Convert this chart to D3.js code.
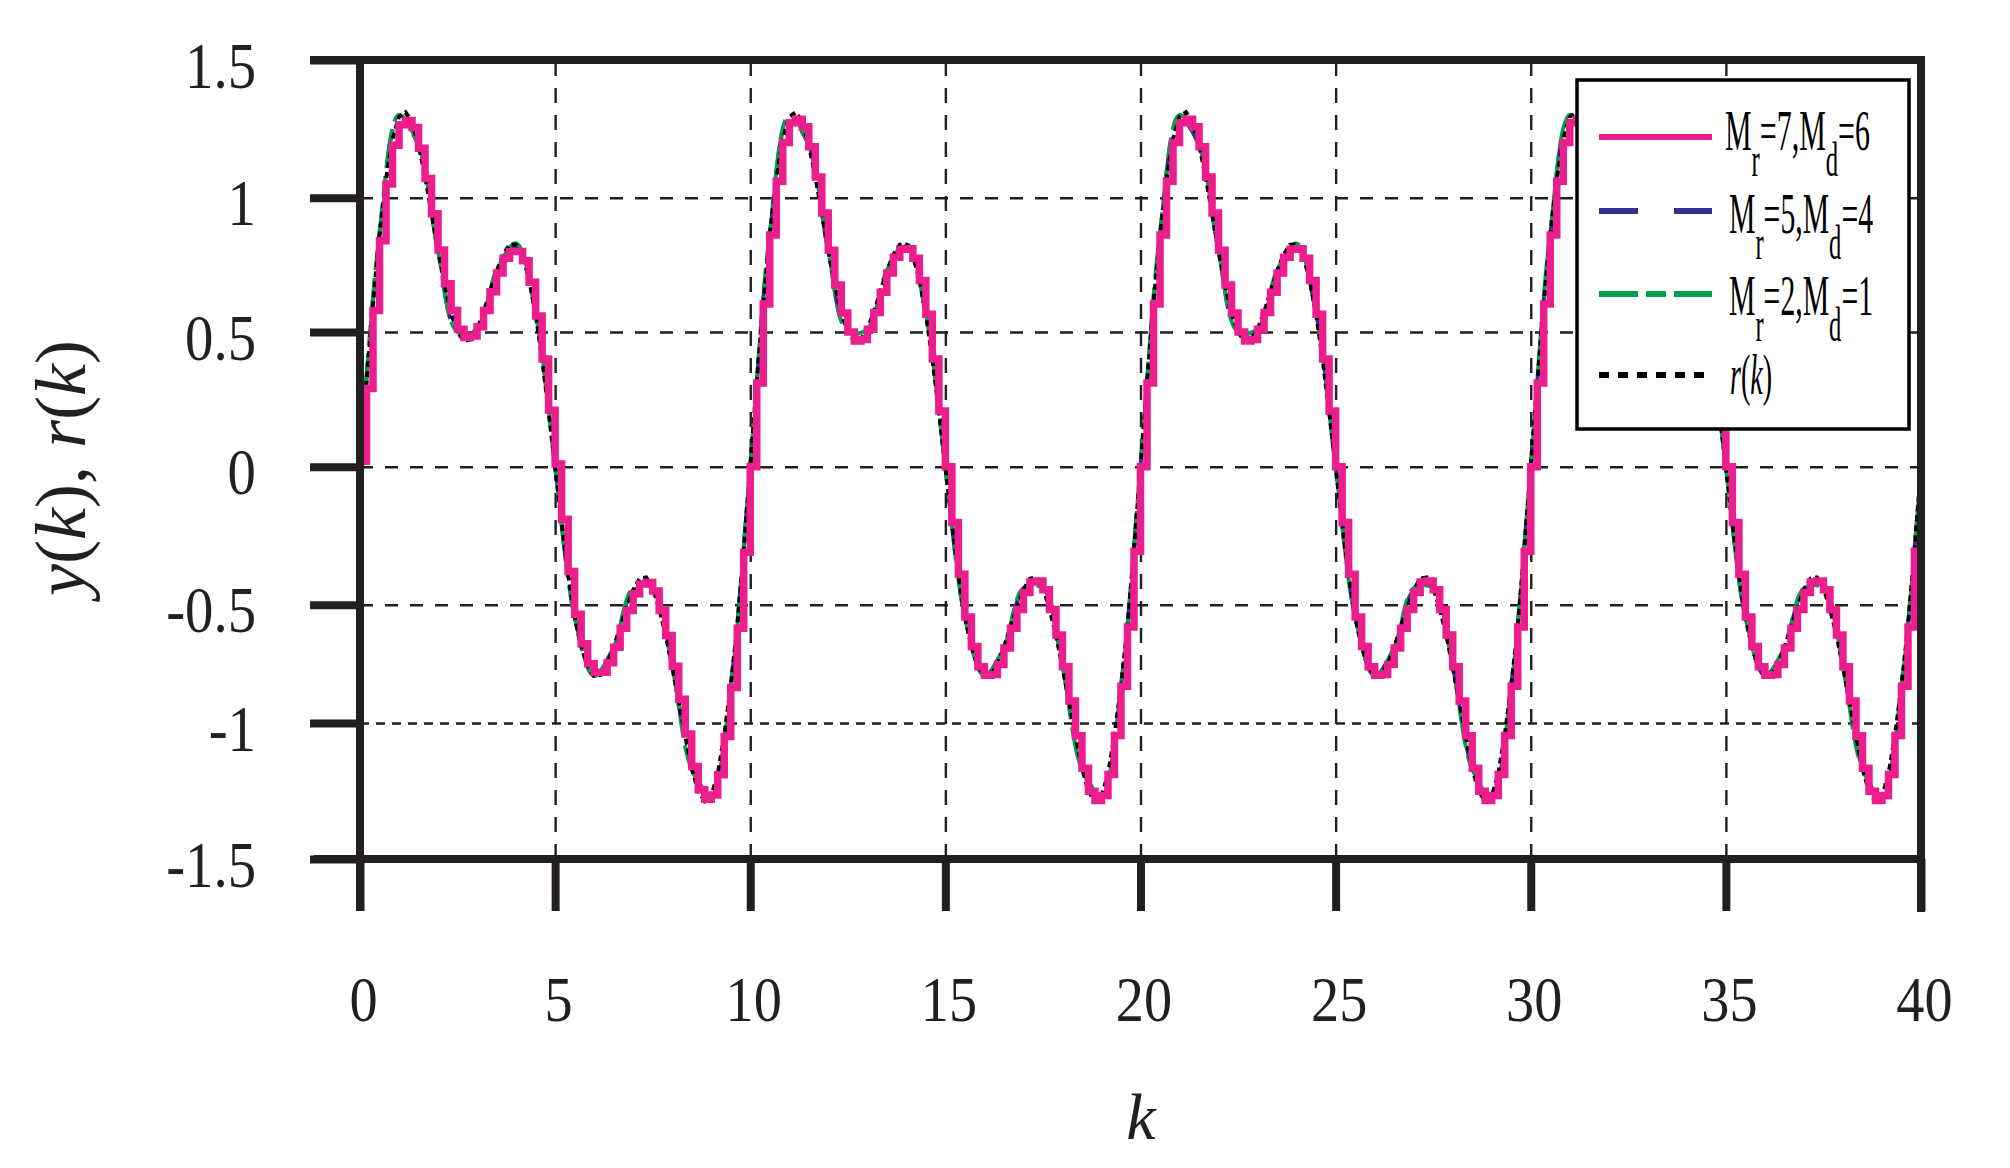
<!DOCTYPE html>
<html>
<head>
<meta charset="utf-8">
<script src="https://cdn.jsdelivr.net/npm/d3@7"></script>
<style>
  html, body { margin: 0; padding: 0; background: #fff; }
  svg { display: block; font-family: "Liberation Serif", "Times New Roman", serif; }
</style>
</head>
<body>
<svg id="chart"></svg>
<script>
// ---- data ----
const xTicks = [0, 5, 10, 15, 20, 25, 30, 35, 40];
const yTicks = [-1.5, -1, -0.5, 0, 0.5, 1, 1.5];
const yTickLabels = ["-1.5", "-1", "-0.5", "0", "0.5", "1", "1.5"];
const xGrid = [5, 10, 15, 20, 25, 30, 35];
const yGrid = [-1, -0.5, 0, 0.5, 1];

// sampling instants (1/6) for r(k) and the staircase, 0.5 for the other two runs
const kFine = d3.range(241).map(i => i / 6);
const kCoarse = d3.range(81).map(i => i / 2);

// reference r(k)
const rRef = [
  0, 0.311, 0.604, 0.861, 1.066, 1.212, 1.294, 1.310, 1.275, 1.193, 1.078, 0.943, 0.804, 0.675, 0.571, 0.500, 0.467, 0.472, 0.510, 0.573,
  0.650, 0.726, 0.788, 0.825, 0.826, 0.784, 0.697, 0.567, 0.400, 0.207, 0, -0.202, -0.390, -0.552, -0.677, -0.762, -0.801, -0.797, -0.753, -0.681,
  -0.595, -0.513, -0.446, -0.406, -0.401, -0.438, -0.516, -0.627, -0.762, -0.907, -1.047, -1.166, -1.251, -1.287, -1.269, -1.189, -1.046, -0.845, -0.594, -0.306,
  0, 0.311, 0.604, 0.861, 1.066, 1.212, 1.294, 1.310, 1.275, 1.193, 1.078, 0.943, 0.804, 0.675, 0.571, 0.500, 0.467, 0.472, 0.510, 0.573,
  0.650, 0.726, 0.788, 0.825, 0.826, 0.784, 0.697, 0.567, 0.400, 0.207, 0, -0.202, -0.390, -0.552, -0.677, -0.762, -0.801, -0.797, -0.753, -0.681,
  -0.595, -0.513, -0.446, -0.406, -0.401, -0.438, -0.516, -0.627, -0.762, -0.907, -1.047, -1.166, -1.251, -1.287, -1.269, -1.189, -1.046, -0.845, -0.594, -0.306,
  0, 0.311, 0.604, 0.861, 1.066, 1.212, 1.294, 1.310, 1.275, 1.193, 1.078, 0.943, 0.804, 0.675, 0.571, 0.500, 0.467, 0.472, 0.510, 0.573,
  0.650, 0.726, 0.788, 0.825, 0.826, 0.784, 0.697, 0.567, 0.400, 0.207, 0, -0.202, -0.390, -0.552, -0.677, -0.762, -0.801, -0.797, -0.753, -0.681,
  -0.595, -0.513, -0.446, -0.406, -0.401, -0.438, -0.516, -0.627, -0.762, -0.907, -1.047, -1.166, -1.251, -1.287, -1.269, -1.189, -1.046, -0.845, -0.594, -0.306,
  0, 0.311, 0.604, 0.861, 1.066, 1.212, 1.294, 1.310, 1.275, 1.193, 1.078, 0.943, 0.804, 0.675, 0.571, 0.500, 0.467, 0.472, 0.510, 0.573,
  0.650, 0.726, 0.788, 0.825, 0.826, 0.784, 0.697, 0.567, 0.400, 0.207, 0, -0.202, -0.390, -0.552, -0.677, -0.762, -0.801, -0.797, -0.753, -0.681,
  -0.595, -0.513, -0.446, -0.406, -0.401, -0.438, -0.516, -0.627, -0.762, -0.907, -1.047, -1.166, -1.251, -1.287, -1.269, -1.189, -1.046, -0.845, -0.594, -0.306,
  0
];

// Mr=7, Md=6 (zero-order hold output)
const yMr7Md6 = [
  0.02, 0.29, 0.58, 0.84, 1.05, 1.19, 1.265, 1.28, 1.255, 1.18, 1.07, 0.94, 0.805, 0.68, 0.58, 0.51, 0.48, 0.485, 0.52, 0.58,
  0.65, 0.72, 0.775, 0.80, 0.80, 0.765, 0.685, 0.56, 0.40, 0.21, 0.01, -0.19, -0.38, -0.54, -0.665, -0.75, -0.785, -0.785, -0.745, -0.68,
  -0.60, -0.525, -0.46, -0.425, -0.42, -0.45, -0.525, -0.63, -0.76, -0.90, -1.04, -1.16, -1.245, -1.28, -1.265, -1.19, -1.05, -0.85, -0.60, -0.31,
  0, 0.311, 0.604, 0.861, 1.060, 1.200, 1.272, 1.285, 1.258, 1.185, 1.075, 0.943, 0.804, 0.675, 0.571, 0.500, 0.467, 0.472, 0.510, 0.573,
  0.648, 0.720, 0.778, 0.808, 0.810, 0.775, 0.692, 0.566, 0.400, 0.207, 0, -0.202, -0.390, -0.552, -0.677, -0.762, -0.798, -0.795, -0.753, -0.683,
  -0.600, -0.520, -0.456, -0.418, -0.414, -0.446, -0.520, -0.628, -0.762, -0.907, -1.047, -1.166, -1.251, -1.285, -1.267, -1.189, -1.046, -0.845, -0.594, -0.306,
  0, 0.311, 0.604, 0.861, 1.060, 1.200, 1.272, 1.285, 1.258, 1.185, 1.075, 0.943, 0.804, 0.675, 0.571, 0.500, 0.467, 0.472, 0.510, 0.573,
  0.648, 0.720, 0.778, 0.808, 0.810, 0.775, 0.692, 0.566, 0.400, 0.207, 0, -0.202, -0.390, -0.552, -0.677, -0.762, -0.798, -0.795, -0.753, -0.683,
  -0.600, -0.520, -0.456, -0.418, -0.414, -0.446, -0.520, -0.628, -0.762, -0.907, -1.047, -1.166, -1.251, -1.285, -1.267, -1.189, -1.046, -0.845, -0.594, -0.306,
  0, 0.311, 0.604, 0.861, 1.060, 1.200, 1.272, 1.285, 1.258, 1.185, 1.075, 0.943, 0.804, 0.675, 0.571, 0.500, 0.467, 0.472, 0.510, 0.573,
  0.648, 0.720, 0.778, 0.808, 0.810, 0.775, 0.692, 0.566, 0.400, 0.207, 0, -0.202, -0.390, -0.552, -0.677, -0.762, -0.798, -0.795, -0.753, -0.683,
  -0.600, -0.520, -0.456, -0.418, -0.414, -0.446, -0.520, -0.628, -0.762, -0.907, -1.047, -1.166, -1.251, -1.285, -1.267, -1.189, -1.046, -0.845, -0.594, -0.306,
  0
];

// Mr=5, Md=4
const yMr5Md4 = [
  0, 0.86, 1.29, 1.19, 0.80, 0.50, 0.51, 0.72, 0.82, 0.57, 0, -0.55, -0.80, -0.68, -0.45, -0.44, -0.76, -1.16, -1.27, -0.84,
  0, 0.86, 1.29, 1.19, 0.80, 0.50, 0.51, 0.72, 0.82, 0.57, 0, -0.55, -0.80, -0.68, -0.45, -0.44, -0.76, -1.16, -1.27, -0.84,
  0, 0.86, 1.29, 1.19, 0.80, 0.50, 0.51, 0.72, 0.82, 0.57, 0, -0.55, -0.80, -0.68, -0.45, -0.44, -0.76, -1.16, -1.27, -0.84,
  0, 0.86, 1.29, 1.19, 0.80, 0.50, 0.51, 0.72, 0.82, 0.57, 0, -0.55, -0.80, -0.68, -0.45, -0.44, -0.76, -1.16, -1.27, -0.84,
  0
];

// Mr=2, Md=1
const yMr2Md1 = [
  0, 0.87, 1.30, 1.19, 0.80, 0.50, 0.51, 0.73, 0.83, 0.57, 0, -0.55, -0.80, -0.68, -0.44, -0.44, -0.76, -1.17, -1.27, -0.85,
  0, 0.87, 1.30, 1.19, 0.80, 0.50, 0.51, 0.73, 0.83, 0.57, 0, -0.55, -0.80, -0.68, -0.44, -0.44, -0.76, -1.17, -1.27, -0.85,
  0, 0.87, 1.30, 1.19, 0.80, 0.50, 0.51, 0.73, 0.83, 0.57, 0, -0.55, -0.80, -0.68, -0.44, -0.44, -0.76, -1.17, -1.27, -0.85,
  0, 0.87, 1.30, 1.19, 0.80, 0.50, 0.51, 0.73, 0.83, 0.57, 0, -0.55, -0.80, -0.68, -0.44, -0.44, -0.76, -1.17, -1.27, -0.85,
  0
];

// legend text pieces: [text, kind] with kind "" | "sub" | "it"
const legendLabels = [
  [["M", ""], ["r", "sub"], ["=7,M", ""], ["d", "sub"], ["=6", ""]],
  [["M", ""], ["r", "sub"], ["=5,M", ""], ["d", "sub"], ["=4", ""]],
  [["M", ""], ["r", "sub"], ["=2,M", ""], ["d", "sub"], ["=1", ""]],
  [["r", "it"], ["(", ""], ["k", "it"], [")", ""]]
];
const legendColors = ["#ec1e8e", "#2e3192", "#00a14b", "#000000"];
const legendDashes = [null, "39,36", "39,8,20,8", "10,9"];

class ResponseChart {
  constructor(_config) {
    this.config = {
      parentElement: _config.parentElement,
      containerWidth: _config.containerWidth || 2010,
      containerHeight: _config.containerHeight || 1168,
      margin: _config.margin || {top: 60, right: 89, bottom: 309, left: 360}
    };
    this.initVis();
  }

  initVis() {
    let vis = this;
    vis.width = vis.config.containerWidth - vis.config.margin.left - vis.config.margin.right;
    vis.height = vis.config.containerHeight - vis.config.margin.top - vis.config.margin.bottom;

    vis.xScale = d3.scaleLinear().domain([0, 40]).range([0, vis.width]);
    // the printed tick marks are not evenly spaced, so the scale follows them piece by piece
    vis.yScale = d3.scaleLinear()
        .domain(yTicks)
        .range([vis.height, 663, 544.7, 406.7, 272, 137.7, 0]);

    vis.svg = d3.select(vis.config.parentElement)
        .attr('width', vis.config.containerWidth)
        .attr('height', vis.config.containerHeight);

    vis.chart = vis.svg.append('g')
        .attr('transform', `translate(${vis.config.margin.left},${vis.config.margin.top})`);

    vis.ink = '#231f20';
  }

  // narrow the glyphs a little, the source figure uses a condensed Times
  squeeze(sel, factor) {
    sel.each(function() {
      const w = this.getComputedTextLength();
      d3.select(this).attr('textLength', w * factor).attr('lengthAdjust', 'spacingAndGlyphs');
    });
  }

  updateVis() {
    let vis = this;

    // dashed grid
    const hGrid = vis.chart.append('g')
        .call(d3.axisLeft(vis.yScale).tickValues(yGrid).tickSize(-vis.width).tickFormat(''));
    hGrid.select('.domain').remove();
    hGrid.selectAll('line')
        .attr('stroke', vis.ink)
        .attr('stroke-width', 2.4)
        .attr('stroke-dasharray', d => d === -1 ? '9,7' : '13,12');

    const vGrid = vis.chart.append('g')
        .call(d3.axisBottom(vis.xScale).tickValues(xGrid).tickSize(-vis.height).tickFormat(''))
        .attr('transform', `translate(0,${vis.height})`);
    vGrid.select('.domain').remove();
    vGrid.selectAll('line')
        .attr('stroke', vis.ink)
        .attr('stroke-width', 2.4)
        .attr('stroke-dasharray', '15,12');

    // series
    const smooth = d3.line()
        .x(d => vis.xScale(d[0]))
        .y(d => vis.yScale(d[1]))
        .curve(d3.curveCatmullRom);
    const linear = d3.line()
        .x(d => vis.xScale(d[0]))
        .y(d => vis.yScale(d[1]));
    const stair = d3.line()
        .x(d => vis.xScale(d[0]))
        .y(d => vis.yScale(d[1]))
        .curve(d3.curveStepAfter);

    vis.chart.append('path')
        .datum(d3.zip(kCoarse, yMr5Md4))
        .attr('d', smooth)
        .attr('fill', 'none')
        .attr('stroke', legendColors[1])
        .attr('stroke-width', 4)
        .attr('stroke-dasharray', legendDashes[1]);

    vis.chart.append('path')
        .datum(d3.zip(kCoarse, yMr2Md1))
        .attr('d', smooth)
        .attr('fill', 'none')
        .attr('stroke', legendColors[2])
        .attr('stroke-width', 4)
        .attr('stroke-dasharray', legendDashes[2]);

    vis.chart.append('path')
        .datum(d3.zip(kFine, rRef))
        .attr('d', linear)
        .attr('fill', 'none')
        .attr('stroke', legendColors[3])
        .attr('stroke-width', 4)
        .attr('stroke-dasharray', '6,4');

    vis.chart.append('path')
        .datum(d3.zip(kFine, yMr7Md6))
        .attr('d', stair)
        .attr('fill', 'none')
        .attr('stroke', legendColors[0])
        .attr('stroke-width', 7.5)
        .attr('stroke-linejoin', 'miter');

    // axes
    const yAxisG = vis.chart.append('g')
        .call(d3.axisLeft(vis.yScale)
          .tickValues(yTicks)
          .tickSize(50)
          .tickPadding(54)
          .tickFormat((d, i) => yTickLabels[i]));
    yAxisG.select('.domain').remove();
    yAxisG.selectAll('line').attr('stroke', vis.ink).attr('stroke-width', 8);
    yAxisG.selectAll('text')
        .attr('dy', '0.41em')
        .attr('fill', vis.ink)
        .style('font-size', '66px')
        .style('font-family', '"Liberation Serif", "Times New Roman", serif')
        .call(sel => vis.squeeze(sel, 0.86));

    const xAxisG = vis.chart.append('g')
        .attr('transform', `translate(0,${vis.height})`)
        .call(d3.axisBottom(vis.xScale).tickValues(xTicks).tickSize(52).tickPadding(65));
    xAxisG.select('.domain').remove();
    xAxisG.selectAll('line').attr('stroke', vis.ink).attr('stroke-width', 8);
    xAxisG.selectAll('text')
        .attr('dx', 3)
        .attr('fill', vis.ink)
        .style('font-size', '64px')
        .style('font-family', '"Liberation Serif", "Times New Roman", serif')
        .call(sel => vis.squeeze(sel, 0.88));

    // frame
    const frame = vis.chart.append('g').attr('stroke', vis.ink).attr('stroke-width', 8);
    frame.append('line').attr('x1', -50).attr('x2', vis.width + 4).attr('y1', vis.yScale(1.5)).attr('y2', vis.yScale(1.5));
    frame.append('line').attr('x1', -46).attr('x2', vis.width + 4).attr('y1', vis.yScale(-1.5)).attr('y2', vis.yScale(-1.5));
    frame.append('line').attr('x1', vis.xScale(0)).attr('x2', vis.xScale(0)).attr('y1', -4).attr('y2', vis.height + 52);
    frame.append('line').attr('x1', vis.xScale(40)).attr('x2', vis.xScale(40)).attr('y1', -4).attr('y2', vis.height + 53);

    // axis titles
    const yTitle = vis.svg.append('text')
        .attr('transform', 'translate(85,468) rotate(-90)')
        .attr('text-anchor', 'middle')
        .attr('fill', vis.ink)
        .style('font-size', '72px');
    [['y', true], ['(', false], ['k', true], ['), ', false], ['r', true], ['(', false], ['k', true], [')', false]]
      .forEach(p => yTitle.append('tspan').text(p[0]).style('font-style', p[1] ? 'italic' : 'normal'));

    vis.svg.append('text')
        .attr('x', 1141)
        .attr('y', 1139)
        .attr('text-anchor', 'middle')
        .attr('fill', vis.ink)
        .style('font-size', '66px')
        .style('font-style', 'italic')
        .text('k');

    vis.renderLegend();
  }

  renderLegend() {
    let vis = this;
    const lg = vis.svg.append('g').attr('transform', 'translate(1577,80)');
    lg.append('rect')
        .attr('width', 332)
        .attr('height', 349)
        .attr('fill', '#fff')
        .attr('stroke', '#000')
        .attr('stroke-width', 3.5);

    const rowLineY = [57, 131, 214, 295];
    const rowTextY = [70, 153, 235, 314];
    const rowTextX = [148, 152, 152, 153];
    const rowTextW = [145, 144, 144, 42];

    legendLabels.forEach((parts, i) => {
      lg.append('line')
          .attr('x1', 22).attr('x2', 135)
          .attr('y1', rowLineY[i]).attr('y2', rowLineY[i])
          .attr('stroke', legendColors[i])
          .attr('stroke-width', 6)
          .attr('stroke-dasharray', legendDashes[i]);

      const t = lg.append('text')
          .attr('fill', '#000')
          .style('font-size', '58px');
      let shifted = false;
      parts.forEach(([txt, kind]) => {
        const s = t.append('tspan').text(txt);
        if (kind === 'sub') {
          s.attr('dy', 26).style('font-size', '48px');
          shifted = true;
        } else if (shifted) {
          s.attr('dy', -26);
          shifted = false;
        }
        if (kind === 'it') s.style('font-style', 'italic');
      });
      const w = t.node().getComputedTextLength();
      t.attr('transform', `translate(${rowTextX[i]},${rowTextY[i]}) scale(${rowTextW[i] / w},1)`);
    });
  }
}

const chart = new ResponseChart({parentElement: '#chart'});
chart.updateVis();
</script>
</body>
</html>
